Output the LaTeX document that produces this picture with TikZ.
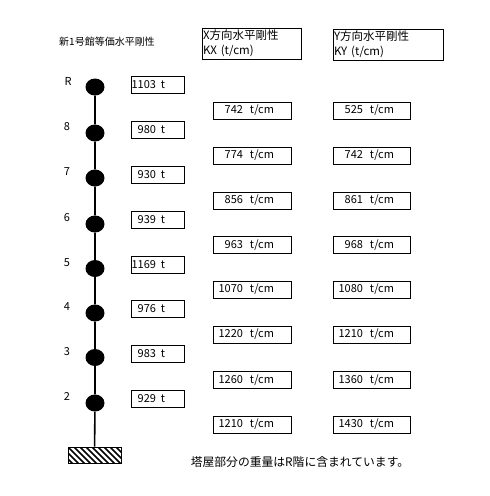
\documentclass[tikz,border=0pt]{standalone}
\usepackage{fontspec}
\setmainfont{Noto Sans CJK JP}
\usetikzlibrary{shapes.geometric}
\begin{document}
\begin{tikzpicture}[x=1pt,y=-1pt,
  mass/.style={ellipse,fill=black,minimum width=19pt,minimum height=17pt,inner sep=0pt},
  flab/.style={inner sep=0pt,font=\fontsize{11}{12}\selectfont},
  wbox/.style={draw,line width=0.9pt,minimum width=53pt,minimum height=17pt,inner sep=0pt,font=\fontsize{11}{12}\selectfont},
  kbox/.style={draw,line width=0.9pt,minimum width=78pt,minimum height=17pt,inner sep=0pt,font=\fontsize{11}{12}\selectfont},
  hbox/.style={draw,line width=0.9pt,minimum height=31pt,inner sep=1pt,align=left,font=\fontsize{11.5}{15}\selectfont},
  stem/.style={line width=1.6pt}]
\useasboundingbox (0,0) rectangle (490,496);
\newcommand{\wt}[1]{\makebox[53pt][l]{\makebox[25pt][r]{#1}\hspace{5pt}t}}
\newcommand{\kv}[2]{\makebox[#2][l]{\makebox[30pt][r]{#1}\hspace{7pt}t/cm}}

% title
\node[anchor=west,inner sep=0pt,font=\fontsize{10}{12}\selectfont] (title) at (59,42) {新1号館等価水平剛性};

% headers
\node[hbox,minimum width=99pt,text width=97pt] (hx) at (251.5,43.5) {X方向水平剛性\\KX (t/cm)};
\node[hbox,minimum width=110pt,text width=108pt] (hy) at (388,44.5) {Y方向水平剛性\\KY (t/cm)};

% masses
\node[mass] (mR) at (95,87) {};
\node[mass] (m8) at (95,133) {};
\node[mass] (m7) at (95,178) {};
\node[mass] (m6) at (95,224) {};
\node[mass] (m5) at (95,268.5) {};
\node[mass] (m4) at (95,313) {};
\node[mass] (m3) at (95,357.5) {};
\node[mass] (m2) at (95,403) {};

% base
\node[draw,line width=0.9pt,minimum width=53pt,minimum height=16pt,inner sep=0pt,
  path picture={\foreach \i in {-3,...,9}
    \draw[line width=1.5pt] ([xshift=\i*6pt]path picture bounding box.north west) -- ++(17pt,-17pt);}]
  (base) at (94.5,455) {};

\draw[stem] (mR) -- (m8) -- (m7) -- (m6) -- (m5) -- (m4) -- (m3) -- (m2) -- (base);

% floor labels
\node[flab] (lR) at (68,81) {R};
\node[flab] (l8) at (67,127) {8};
\node[flab] (l7) at (67,172) {7};
\node[flab] (l6) at (67,218) {6};
\node[flab] (l5) at (67,262.5) {5};
\node[flab] (l4) at (67,307) {4};
\node[flab] (l3) at (67,351.5) {3};
\node[flab] (l2) at (67,397) {2};

% weights
\node[wbox] (wR) at (157.5,84.5) {\wt{1103}};
\node[wbox] (w8) at (157.5,129.5) {\wt{980}};
\node[wbox] (w7) at (157.5,175) {\wt{930}};
\node[wbox] (w6) at (157.5,219.5) {\wt{939}};
\node[wbox] (w5) at (157.5,264.5) {\wt{1169}};
\node[wbox] (w4) at (157.5,309) {\wt{976}};
\node[wbox] (w3) at (157.5,353.5) {\wt{983}};
\node[wbox] (w2) at (157.5,399) {\wt{929}};

% X stiffness
\node[kbox] (x1) at (252,110.5) {\kv{742}{78pt}};
\node[kbox] (x2) at (252,155.5) {\kv{774}{78pt}};
\node[kbox] (x3) at (252,200.5) {\kv{856}{78pt}};
\node[kbox] (x4) at (252,245) {\kv{963}{78pt}};
\node[kbox] (x5) at (252,289.5) {\kv{1070}{78pt}};
\node[kbox] (x6) at (252,334.5) {\kv{1220}{78pt}};
\node[kbox] (x7) at (252,380) {\kv{1260}{78pt}};
\node[kbox] (x8) at (252,424.5) {\kv{1210}{78pt}};

% Y stiffness
\node[kbox,minimum width=77pt] (y1) at (371.5,110.5) {\kv{525}{77pt}};
\node[kbox,minimum width=77pt] (y2) at (371.5,155.5) {\kv{742}{77pt}};
\node[kbox,minimum width=77pt] (y3) at (371.5,200.5) {\kv{861}{77pt}};
\node[kbox,minimum width=77pt] (y4) at (371.5,245) {\kv{968}{77pt}};
\node[kbox,minimum width=77pt] (y5) at (371.5,289.5) {\kv{1080}{77pt}};
\node[kbox,minimum width=77pt] (y6) at (371.5,334.5) {\kv{1210}{77pt}};
\node[kbox,minimum width=77pt] (y7) at (371.5,380) {\kv{1360}{77pt}};
\node[kbox,minimum width=77pt] (y8) at (371.5,424.5) {\kv{1430}{77pt}};

% note
\node[inner sep=0pt,font=\fontsize{11.8}{14}\selectfont] (note) at (300,462) {塔屋部分の重量はR階に含まれています。};
\end{tikzpicture}
\end{document}
